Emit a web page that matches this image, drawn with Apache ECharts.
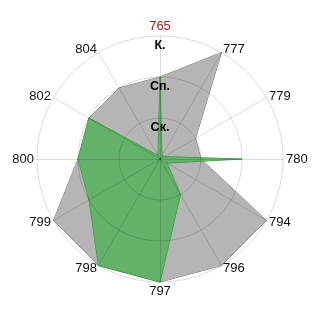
<!DOCTYPE html>
<html>
<head>
<meta charset="utf-8">
<script src="https://cdn.jsdelivr.net/npm/echarts@6/dist/echarts.min.js"></script>
<style>html,body{margin:0;padding:0;background:#fff}#c{width:320px;height:320px}</style>
</head>
<body>
<div id="c"></div>
<script>
// Indicators, clockwise from the top
var categories = ['765','777','779','780','794','796','797','798','799','800','802','804'];
var grayValues  = [2.0, 3.0, 1.0, 1.0, 3.0, 3.0, 3.0, 3.0, 3.0, 2.0, 2.0, 2.0];
var greenValues = [2.0, 0.1, 0.12, 2.0, 0.2, 1.0, 3.0, 3.0, 2.0, 2.0, 2.0, 0.1];
var levelLabels = ['', 'Ск.', 'Сп.', 'К.'];
var maxValue = 3;

// ECharts radar runs counter-clockwise: reorder so it reads clockwise
var order = [0];
for (var i = categories.length - 1; i >= 1; i--) order.push(i);
function reorder(a) { return order.map(function (k) { return a[k]; }); }

var indicator = reorder(categories).map(function (name, idx) {
  var ind = { name: name, min: 0, max: maxValue };
  if (name === '765') ind.color = '#9b1c1c';
  if (idx === 0) {
    ind.axisLabel = {
      show: true, showMinLabel: false,
      margin: 0, align: 'center', verticalAlign: 'top',
      padding: [3, 0, 0, 0],
      color: '#000', fontWeight: 'bold', fontSize: 12.5,
      fontFamily: 'Liberation Sans',
      formatter: function (v) { return levelLabels[Math.round(v)] || ''; }
    };
  }
  return ind;
});

var chart = echarts.init(document.getElementById('c'), null, { renderer: 'canvas' });
chart.setOption({
  animation: false,
  backgroundColor: '#fff',
  radar: {
    z: 10,
    center: [160, 159],
    radius: 123,
    shape: 'circle',
    splitNumber: 3,
    startAngle: 90,
    indicator: indicator,
    axisName: { color: '#111', fontSize: 13, fontFamily: 'Liberation Sans' },
    nameGap: 3,
    splitArea: { show: false },
    splitLine: { lineStyle: { color: 'rgba(0,0,0,0.14)', width: 1 } },
    axisLine: { lineStyle: { color: 'rgba(0,0,0,0.14)', width: 1 } },
    axisTick: { show: false },
    axisLabel: { show: false }
  },
  series: [{
    type: 'radar',
    symbol: 'none',
    data: [
      { value: reorder(grayValues),
        lineStyle: { color: '#7a7a7a', width: 1 },
        areaStyle: { color: '#b5b5b5', opacity: 1 } },
      { value: reorder(greenValues),
        lineStyle: { color: '#3d9a40', width: 1 },
        areaStyle: { color: 'rgb(80,176,86)', opacity: 0.8 } }
    ]
  }]
});
</script>
</body>
</html>
